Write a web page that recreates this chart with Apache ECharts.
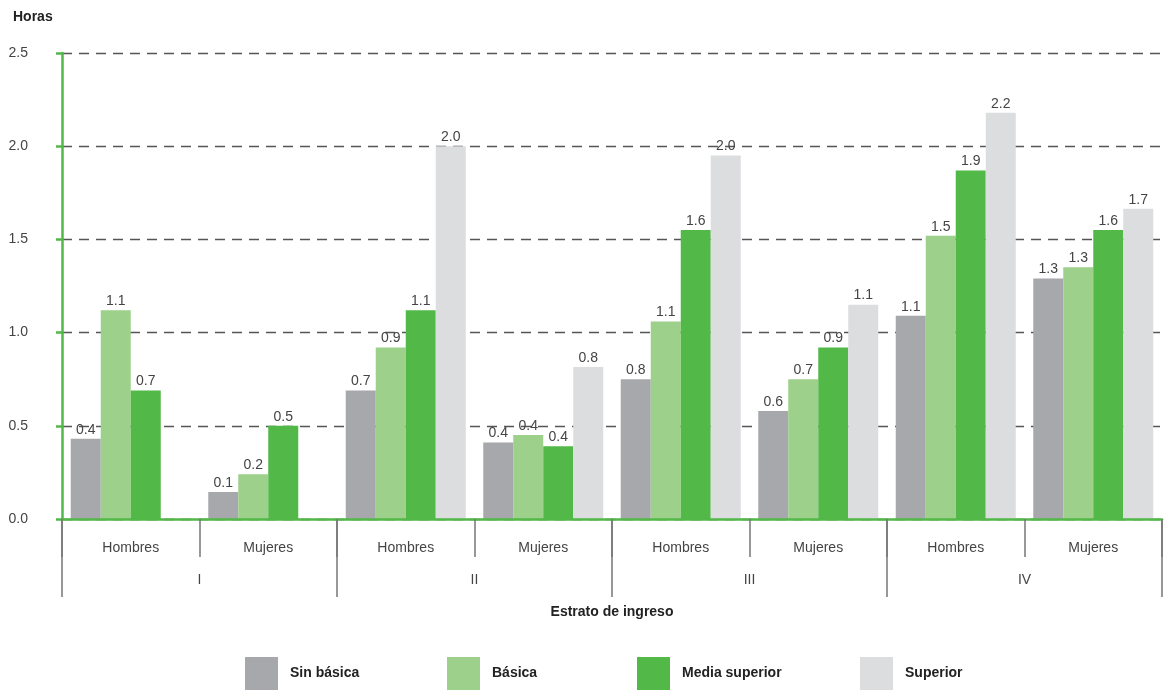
<!DOCTYPE html>
<html>
<head>
<meta charset="utf-8">
<script src="https://cdn.jsdelivr.net/npm/echarts@6/dist/echarts.min.js"></script>
<style>
html,body{margin:0;padding:0;background:#fff;}
#chart{width:1168px;height:690px;}
</style>
</head>
<body>
<div id="chart"></div>
<script>
const categories = ['Hombres','Mujeres','Hombres','Mujeres','Hombres','Mujeres','Hombres','Mujeres'];
const groups = ['I','II','III','IV'];
const seriesNames = ['Sin básica','Básica','Media superior','Superior'];
const sinBasica = [0.43, 0.145, 0.69, 0.41, 0.75, 0.58, 1.09, 1.29];
const basica = [1.12, 0.24, 0.92, 0.45, 1.06, 0.75, 1.52, 1.35];
const mediaSuperior = [0.69, 0.50, 1.12, 0.39, 1.55, 0.92, 1.87, 1.55];
const superior = [null, null, 2.0, 0.815, 1.95, 1.15, 2.18, 1.665];
const sinBasicaLbl = ['0.4','0.1','0.7','0.4','0.8','0.6','1.1','1.3'];
const basicaLbl = ['1.1','0.2','0.9','0.4','1.1','0.7','1.5','1.3'];
const mediaSuperiorLbl = ['0.7','0.5','1.1','0.4','1.6','0.9','1.9','1.6'];
const superiorLbl = ['','','2.0','0.8','2.0','1.1','2.2','1.7'];
const yTicks = [0, 0.5, 1.0, 1.5, 2.0, 2.5];

const colors = ['#a7a8ab','#9dd08a','#52b848','#dcdddf'];
const values = [sinBasica, basica, mediaSuperior, superior];
const labels = [sinBasicaLbl, basicaLbl, mediaSuperiorLbl, superiorLbl];
const FONT = '"Liberation Sans", Arial, sans-serif';

const chart = echarts.init(document.getElementById('chart'));

const legendLefts = [245, 447, 637, 860];

const option = {
  animation: false,
  textStyle: {fontFamily: FONT},
  title: {
    text: 'Horas', left: 8, top: 5,
    textStyle: {fontSize: 14, fontWeight: 'bold', color: '#222', fontFamily: FONT}
  },
  legend: seriesNames.map((n, i) => ({
    data: [n],
    left: legendLefts[i], top: 657, padding: 0,
    itemWidth: 33, itemHeight: 33,
    icon: 'rect',
    selectedMode: false,
    textStyle: {fontSize: 14, fontWeight: 'bold', color: '#222', fontFamily: FONT, padding: [0,0,0,7]}
  })),
  grid: {left: 62, right: 6, top: 53, bottom: 171, containLabel: false},
  xAxis: [
    {
      type: 'category', data: categories, position: 'bottom',
      axisLine: {show: true, lineStyle: {color: '#52b848', width: 2.5}},
      axisTick: {show: true, interval: 0, length: 38, lineStyle: {color: '#777', width: 1.5}},
      axisLabel: {interval: 0, margin: 22, fontSize: 14, color: '#444', fontFamily: FONT},
      z: 5
    },
    {
      type: 'category', data: groups, position: 'bottom',
      axisLine: {show: false},
      axisTick: {show: true, interval: 0, length: 78, lineStyle: {color: '#777', width: 1.5}},
      axisLabel: {interval: 0, margin: 54, fontSize: 14, color: '#444', fontFamily: FONT},
      name: 'Estrato de ingreso', nameLocation: 'middle', nameGap: 86,
      nameTextStyle: {fontSize: 14, fontWeight: 'bold', color: '#222', fontFamily: FONT}
    }
  ],
  yAxis: {
    type: 'value', min: 0, max: 2.5, interval: 0.5,
    axisLine: {show: true, lineStyle: {color: '#52b848', width: 2.5}},
    axisTick: {show: true, length: 6, lineStyle: {color: '#52b848', width: 2.5}},
    axisLabel: {margin: 34, fontSize: 14, color: '#444', fontFamily: FONT,
      formatter: v => v.toFixed(1)},
    splitLine: {show: true, lineStyle: {color: '#555', width: 1.3, type: [10, 7]}}
  },
  series: seriesNames.map((n, i) => ({
    name: n, type: 'bar', xAxisIndex: 0,
    data: values[i],
    barWidth: 30, barGap: '0%',
    itemStyle: {color: colors[i]},
    label: {
      show: true, position: 'top', distance: 2,
      fontSize: 14, color: '#444', fontFamily: FONT,
      formatter: p => labels[i][p.dataIndex]
    }
  }))
};
chart.setOption(option);
</script>
</body>
</html>
